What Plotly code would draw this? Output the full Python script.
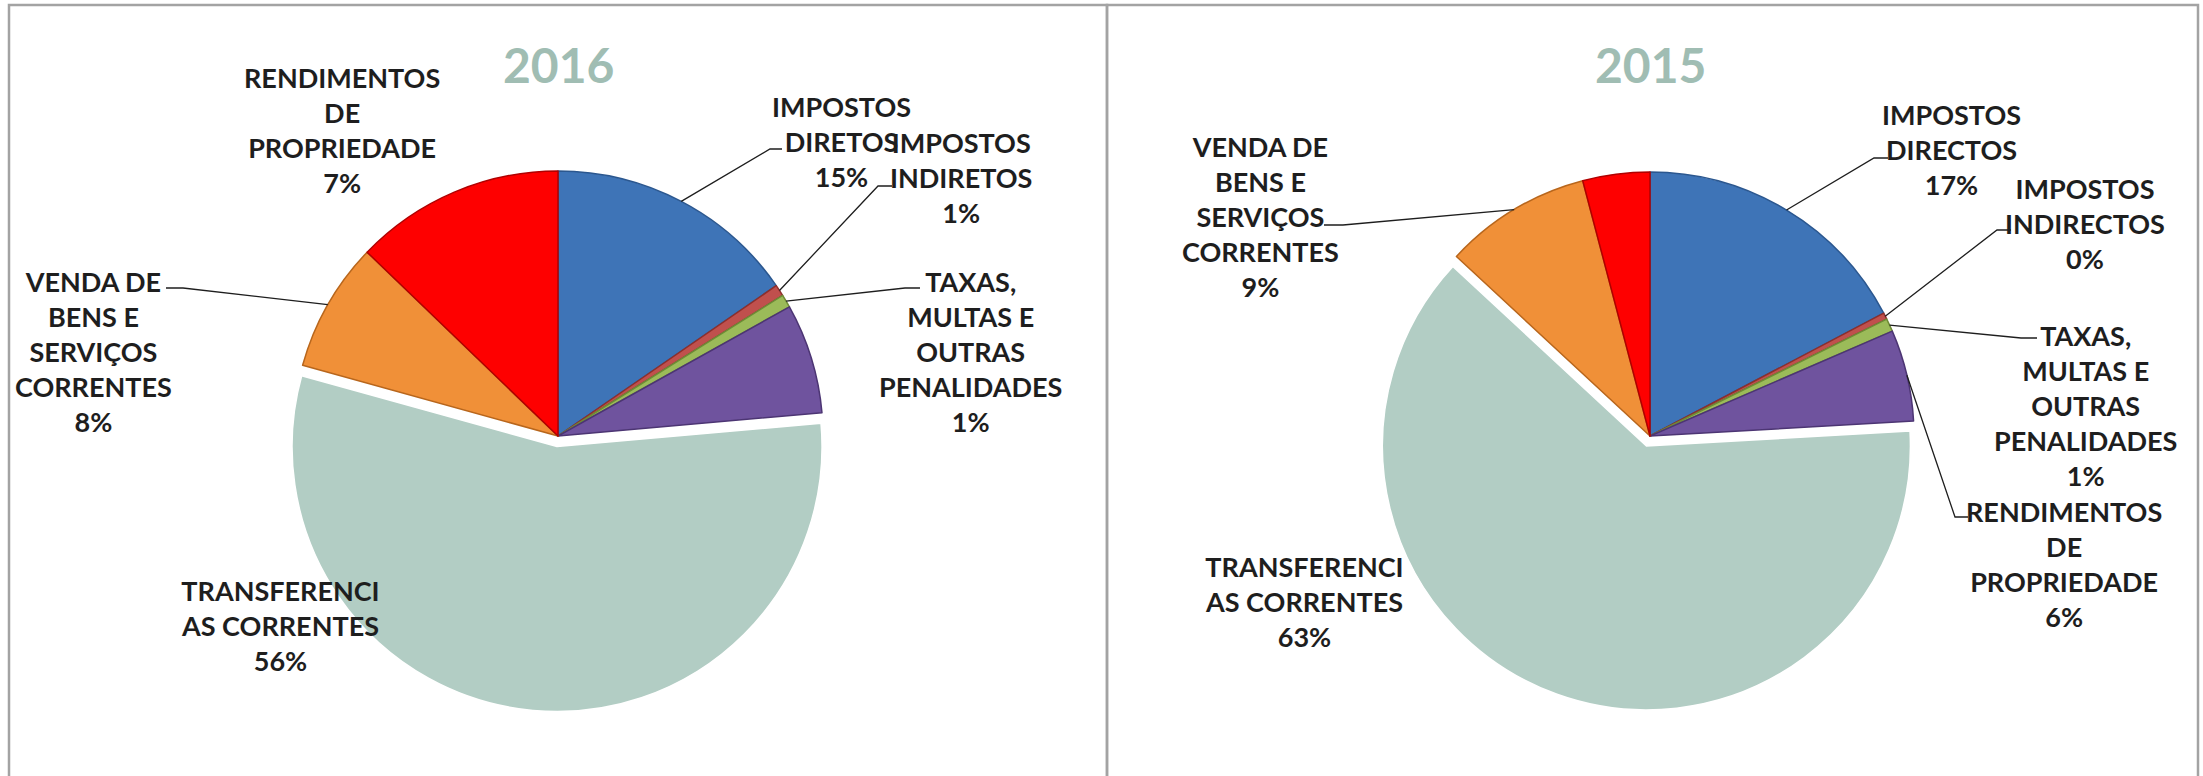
import math
import plotly.graph_objects as go

W, H = 2203, 776
FONT = "Lato"

# slice order, clockwise from 12 o'clock
categories = ["IMPOSTOS DIRETOS", "IMPOSTOS INDIRETOS", "TAXAS, MULTAS E OUTRAS PENALIDADES",
              "RENDIMENTOS DE PROPRIEDADE", "TRANSFERENCIAS CORRENTES",
              "VENDA DE BENS E SERVIÇOS CORRENTES", "OUTRAS RECEITAS CORRENTES"]
values_2016 = [15.4, 0.7, 0.8, 6.7, 55.7, 7.9, 12.8]
values_2015 = [17.3, 0.4, 0.8, 5.6, 62.8, 9.0, 4.1]

# label text as shown on the chart (None = slice has no label)
labels_2016 = ["IMPOSTOS<br>DIRETOS", "IMPOSTOS<br>INDIRETOS", "TAXAS,<br>MULTAS E<br>OUTRAS<br>PENALIDADES",
               "RENDIMENTOS<br>DE<br>PROPRIEDADE", "TRANSFERENCI<br>AS CORRENTES",
               "VENDA DE<br>BENS E<br>SERVIÇOS<br>CORRENTES", None]
labels_2015 = ["IMPOSTOS<br>DIRECTOS", "IMPOSTOS<br>INDIRECTOS", "TAXAS,<br>MULTAS E<br>OUTRAS<br>PENALIDADES",
               "RENDIMENTOS<br>DE<br>PROPRIEDADE", "TRANSFERENCI<br>AS CORRENTES",
               "VENDA DE<br>BENS E<br>SERVIÇOS<br>CORRENTES", None]

colors = ["#3E74B7", "#C0504D", "#9BBB59", "#6F539E", "#B2CDC4", "#F09038", "#FE0000"]
edge_colors = ["#2B578F", "#8E2F2C", "#6E8B36", "#4C3573", "#FFFFFF", "#B8661C", "#B00000"]
pulls = [0, 0, 0, 0, 0.04, 0, 0]

# label placement (pixel centres) and leader-line elbows, per chart
label_pos_2016 = [(841, 141), (961, 178), (970, 352), (342, 130), (280, 625), (93, 352), None]
leader_2016 = [[(770, 149), (782, 149)], [(878, 186), (892, 186)], [(905, 288), (920, 288)],
               None, None, [(183, 288), (166, 288)], None]
label_pos_2015 = [(1951, 150), (2085, 224), (2085, 405), (2064, 564), (1304, 601), (1260, 216), None]
leader_2015 = [[(1874, 158), (1888, 158)], [(1997, 230), (2011, 230)], [(2021, 338), (2037, 338)],
               [(1955, 517), (1968, 517)], None, [(1343, 225), (1324, 225)], None]

charts = [
    dict(title="2016", values=values_2016, labels=labels_2016, pos=label_pos_2016,
         leader=leader_2016, cx=558, cy=436, r=265),
    dict(title="2015", values=values_2015, labels=labels_2015, pos=label_pos_2015,
         leader=leader_2015, cx=1650, cy=436, r=264),
]


def px(x):
    return x / W


def py(y):
    return 1 - y / H


fig = go.Figure()
annotations = []
shapes = []

for ch in charts:
    half = ch["r"] * (1 + max(pulls))
    fig.add_trace(go.Pie(
        labels=categories,
        values=ch["values"],
        sort=False,
        direction="clockwise",
        rotation=0,
        pull=pulls,
        textinfo="none",
        hovertemplate="%{label}: %{percent}<extra></extra>",
        marker=dict(colors=colors, line=dict(color=edge_colors, width=1.5)),
        domain=dict(x=[px(ch["cx"] - half), px(ch["cx"] + half)],
                    y=[py(ch["cy"] + half), py(ch["cy"] - half)]),
        showlegend=False,
    ))

    annotations.append(dict(
        x=px(ch["cx"]), y=py(64), xref="paper", yref="paper", text=ch["title"],
        showarrow=False, xanchor="center", yanchor="middle",
        font=dict(family=FONT, size=48, color="#A0BDB3", weight="bold"),
    ))

    total = sum(ch["values"])
    cum = 0
    for i, v in enumerate(ch["values"]):
        mid = (cum + v / 2) / total * 2 * math.pi
        cum += v
        if ch["labels"][i] is None:
            continue
        pct = round(v / total * 100)
        lx, ly = ch["pos"][i]
        annotations.append(dict(
            x=px(lx), y=py(ly), xref="paper", yref="paper",
            text=f"{ch['labels'][i]}<br>{pct}%",
            showarrow=False, xanchor="center", yanchor="middle", align="center",
            font=dict(family=FONT, size=27, color="#1E1E1E", weight="bold"),
        ))
        if ch["leader"][i]:
            # leader starts on the rim at the slice's mid angle
            tx = ch["cx"] + ch["r"] * math.sin(mid)
            ty = ch["cy"] - ch["r"] * math.cos(mid)
            pts = [(tx, ty)] + ch["leader"][i]
            path = "M " + " L ".join(f"{px(a):.5f},{py(b):.5f}" for a, b in pts)
            shapes.append(dict(type="path", path=path, xref="paper", yref="paper",
                               line=dict(color="#1E1E1E", width=1.3)))

# panel frames
for x0, x1 in [(9, 1107), (1107, 2198)]:
    shapes.append(dict(type="rect", xref="paper", yref="paper",
                       x0=px(x0), x1=px(x1), y0=py(H + 20), y1=py(5),
                       line=dict(color="#A3A3A3", width=2.5)))

fig.update_layout(
    width=W, height=H,
    margin=dict(l=0, r=0, t=0, b=0),
    paper_bgcolor="white",
    plot_bgcolor="white",
    annotations=annotations,
    shapes=shapes,
)

fig.write_html("out.html", config={"displayModeBar": False},
               post_script="document.body.style.margin='0';")
